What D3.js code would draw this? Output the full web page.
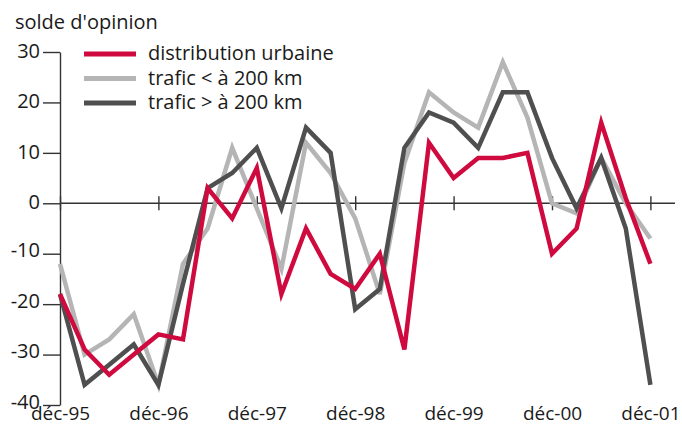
<!DOCTYPE html>
<html>
<head>
<meta charset="utf-8">
<script src="https://cdn.jsdelivr.net/npm/d3@7"></script>
<style>
  body { margin: 0; background: #fff; }
  text { font-family: "Open Sans", Lato, sans-serif; fill: #1a1a1a; }
</style>
</head>
<body>
<svg id="chart"></svg>
<script>
const width = 682;
const height = 425;

// data: quarterly, dec-95 .. dec-01
const xLabels = ['déc-95', 'déc-96', 'déc-97', 'déc-98', 'déc-99', 'déc-00', 'déc-01'];
const yTicks = [-40, -30, -20, -10, 0, 10, 20, 30];
const seriesNames = ['distribution urbaine', 'trafic < à 200 km', 'trafic > à 200 km'];
const urbaine = [-18, -29, -34, -30, -26, -27, 3, -3, 7, -18, -5, -14, -17, -10, -29, 12, 5, 9, 9, 10, -10, -5, 16, 1, -12];
const traficCourt = [-12, -30, -27, -22, -36, -12, -5, 11, -1, -13, 12, 6, -3, -18, 8, 22, 18, 15, 28, 17, 0, -2, 9, 0, -7];
const traficLong = [-18, -36, -32, -28, -36, -16, 3, 6, 11, -1, 15, 10, -21, -17, 11, 18, 16, 11, 22, 22, 9, -1, 9, -5, -36];

const colors = ['#cf0a3f', '#b5b5b5', '#4f4f4f'];
const series = [urbaine, traficCourt, traficLong];

const svg = d3.select('#chart')
  .attr('width', width)
  .attr('height', height);

const x = d3.scaleLinear().domain([0, 24]).range([60, 650.4]);
const y = d3.scaleLinear().domain([-40, 30]).range([405, 52]);

// title
svg.append('text')
  .attr('x', 15)
  .attr('y', 29)
  .style('font-size', '20px')
  .text("solde d'opinion");

// y axis
const yAxis = svg.append('g')
  .attr('transform', `translate(${x(0)},0)`)
  .call(d3.axisLeft(y).tickValues(yTicks).tickSizeInner(17).tickSizeOuter(0).tickPadding(3).tickFormat(d => String(d)));
yAxis.select('.domain').attr('stroke', '#333').attr('stroke-width', 1.4);
yAxis.selectAll('.tick line').attr('stroke', '#333').attr('stroke-width', 1.4);
yAxis.selectAll('.tick text')
  .style('font-size', '20px')
  .attr('fill', '#1a1a1a')
  .attr('dy', d => (d < 0 ? 3 : 5.5));

// zero line with ticks crossing it
svg.append('line')
  .attr('x1', x(0))
  .attr('x2', x(25))
  .attr('y1', y(0))
  .attr('y2', y(0))
  .attr('stroke', '#333')
  .attr('stroke-width', 1.4);

const xTicks = d3.range(0, 25, 4);
const xTickAxis = svg.append('g')
  .attr('transform', `translate(0,${y(0) - 7})`)
  .call(d3.axisBottom(x).tickValues(xTicks).tickSize(14).tickFormat(''));
xTickAxis.select('.domain').remove();
xTickAxis.selectAll('.tick line').attr('stroke', '#333').attr('stroke-width', 1.4);

// x labels along the bottom
const xLabelAxis = svg.append('g')
  .attr('transform', `translate(0,${y(-40)})`)
  .call(d3.axisBottom(x).tickValues(xTicks).tickSize(0).tickPadding(1)
    .tickFormat((d, i) => xLabels[i]));
xLabelAxis.select('.domain').remove();
xLabelAxis.selectAll('.tick text')
  .style('font-size', '19px')
  .attr('fill', '#1a1a1a');

// lines
const line = d3.line()
  .x((d, i) => x(i))
  .y(d => y(d));

svg.append('g')
  .selectAll('path')
  .data([series[1], series[2], series[0]].map((s, k) => ({ values: s, color: [colors[1], colors[2], colors[0]][k] })))
  .join('path')
  .attr('d', d => line(d.values))
  .attr('fill', 'none')
  .attr('stroke', d => d.color)
  .attr('stroke-width', 4.5)
  .attr('stroke-linejoin', 'miter');

// legend
const legend = svg.append('g')
  .selectAll('g')
  .data(seriesNames)
  .join('g')
  .attr('transform', (d, i) => `translate(84,${54 + i * 24.5})`);
legend.append('line')
  .attr('x1', 0)
  .attr('x2', 52)
  .attr('stroke', (d, i) => colors[i])
  .attr('stroke-width', 5);
legend.append('text')
  .attr('x', 64)
  .attr('y', 6)
  .style('font-size', '20px')
  .text(d => d);
</script>
</body>
</html>
